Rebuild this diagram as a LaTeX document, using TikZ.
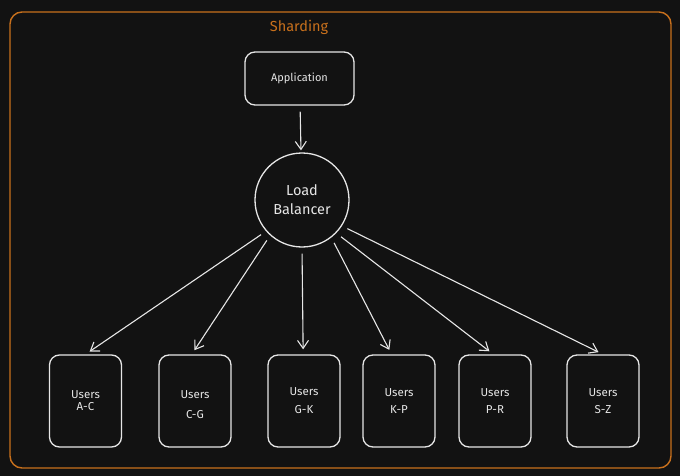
\documentclass[tikz,border=0pt]{standalone}
\usepackage{fontspec}
\setmainfont{Fira Sans}
\usetikzlibrary{arrows.meta}
\definecolor{bgdark}{HTML}{121212}
\definecolor{sketch}{HTML}{E6E6E6}
\definecolor{shardorange}{HTML}{C8701C}
\begin{document}
\begin{tikzpicture}[x=1pt,y=-1pt,
    frame/.style={draw=shardorange,line width=1.4pt,rounded corners=12pt,minimum width=661pt,minimum height=456pt},
    appbox/.style={draw=sketch,line width=1.3pt,rounded corners=10pt,minimum width=109pt,minimum height=53pt,text=sketch,font=\fontsize{11}{13}\selectfont},
    balancer/.style={draw=sketch,line width=1.3pt,circle,minimum size=94pt,inner sep=0pt,align=center,text=sketch,font=\fontsize{14.5}{19}\selectfont},
    userbox/.style={draw=sketch,line width=1.3pt,rounded corners=10pt,minimum width=72pt,minimum height=92pt,align=center,text=sketch,font=\fontsize{11.5}{13}\selectfont},
    arr/.style={draw=sketch,line width=1.1pt,-{Straight Barb[length=8pt,width=11pt]},shorten <=6pt,shorten >=5pt}]
    \fill[bgdark] (0,0) rectangle (680,476);
    \useasboundingbox (0,0) rectangle (680,476);

    \node[frame] (group) at (340.5,240) {};
    \node[text=shardorange,font=\fontsize{14.5}{16}\selectfont] (title) at (299,27) {Sharding};

    \node[appbox] (app) at (299.5,78.5) {Application};
    \node[balancer] (lb) at (302,200) {Load\\Balancer};

    \node[userbox] (u1) at (85.5,401) {Users\\[-1pt]A-C};
    \node[userbox] (u2) at (195,401) {\rule{0pt}{0pt}\\[3pt]Users\\[7pt]C-G};
    \node[userbox] (u3) at (304,401) {Users\\[5pt]G-K};
    \node[userbox] (u4) at (399,401) {Users\\[4pt]K-P};
    \node[userbox] (u5) at (495,401) {\rule{0pt}{0pt}\\[-6pt]Users\\[4pt]P-R};
    \node[userbox] (u6) at (603,401) {Users\\[4pt]S-Z};

    \draw[arr,shorten >=2pt] (app) -- (lb);

    \draw[arr] (lb.221) -- (u1.90);
    \draw[arr] (lb.228) -- (u2.94);
    \draw[arr] (lb.270) -- (u3.91);
    \draw[arr] (lb.308) -- (u4.99);
    \draw[arr] (lb.316) -- (u5.92);
    \draw[arr] (lb.327) -- (u6.90);
\end{tikzpicture}
\end{document}
